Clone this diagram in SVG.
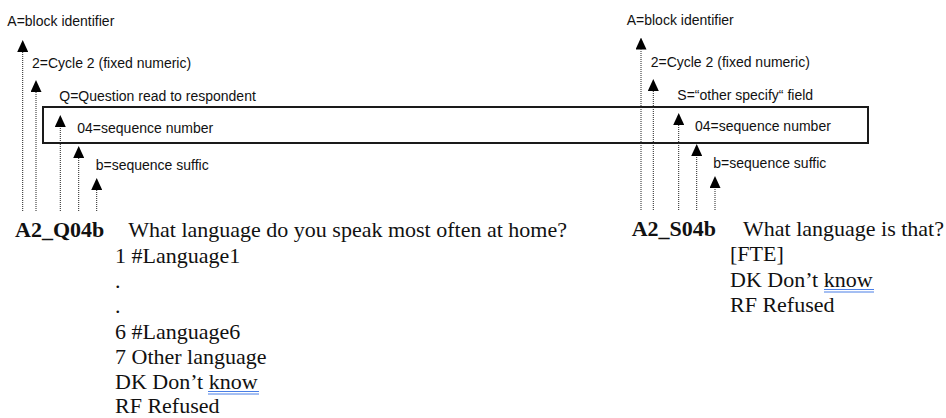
<svg xmlns="http://www.w3.org/2000/svg" width="946" height="418" viewBox="0 0 946 418">
<style>
.ann{font-family:"Liberation Sans",Arial,sans-serif;font-size:14px;fill:#111}
.code{font-family:"Liberation Serif","Times New Roman",serif;font-size:22px;font-weight:bold;fill:#111}
.body{font-family:"Liberation Serif","Times New Roman",serif;font-size:22px;fill:#111}
.dot{stroke:#222;stroke-width:1;stroke-dasharray:1 1;fill:none}
.box{fill:none;stroke:#1a1a1a;stroke-width:2}
.ul{stroke:#4a7fe6;stroke-width:1}
</style>
<defs>
<marker id="ah" markerUnits="userSpaceOnUse" markerWidth="12" markerHeight="11" refX="0" refY="5.5" orient="auto">
<path d="M0,0 L12,5.5 L0,11 z" fill="#000"/>
</marker>
</defs>
<rect width="946" height="418" fill="#fff"/>
<g id="highlight-box"><rect class="box" x="43" y="107" width="825" height="36"/></g>
<g id="connectors">
<line class="dot" x1="22.7" y1="211" x2="22.7" y2="52" marker-end="url(#ah)"/>
<line class="dot" x1="36" y1="211" x2="36" y2="92" marker-end="url(#ah)"/>
<line class="dot" x1="60.3" y1="211" x2="60.3" y2="127" marker-end="url(#ah)"/>
<line class="dot" x1="78.7" y1="211" x2="78.7" y2="158" marker-end="url(#ah)"/>
<line class="dot" x1="96.7" y1="211" x2="96.7" y2="190" marker-end="url(#ah)"/>
<line class="dot" x1="641" y1="210" x2="641" y2="49.5" marker-end="url(#ah)"/>
<line class="dot" x1="653.3" y1="210" x2="653.3" y2="91" marker-end="url(#ah)"/>
<line class="dot" x1="678.7" y1="210" x2="678.7" y2="125" marker-end="url(#ah)"/>
<line class="dot" x1="696.7" y1="210" x2="696.7" y2="156" marker-end="url(#ah)"/>
<line class="dot" x1="715" y1="210" x2="715" y2="188" marker-end="url(#ah)"/>
</g>
<g id="left-labels">
<text class="ann" x="7.3" y="26">A=block identifier</text>
<text class="ann" x="32" y="68">2=Cycle 2 (fixed numeric)</text>
<text class="ann" x="59.3" y="101">Q=Question read to respondent</text>
<text class="ann" x="77.3" y="133">04=sequence number</text>
<text class="ann" x="95.7" y="170">b=sequence suffic</text>
</g>
<g id="right-labels">
<text class="ann" x="626.7" y="25">A=block identifier</text>
<text class="ann" x="650.7" y="67">2=Cycle 2 (fixed numeric)</text>
<text class="ann" x="677.3" y="99.5">S=“other specify“ field</text>
<text class="ann" x="695" y="131">04=sequence number</text>
<text class="ann" x="713.3" y="168">b=sequence suffic</text>
</g>
<g id="question-A2_Q04b">
<text class="code" x="15" y="237">A2_Q04b</text>
<text class="body" x="128.3" y="237">What language do you speak most often at home?</text>
<text class="body" x="115" y="263">1 #Language1</text>
<text class="body" x="115" y="288">.</text>
<text class="body" x="115" y="313">.</text>
<text class="body" x="115" y="339">6 #Language6</text>
<text class="body" x="115" y="364">7 Other language</text>
<text class="body" x="115" y="389">DK Don’t know</text>
<line class="ul" x1="208" y1="391.5" x2="259" y2="391.5"/>
<line class="ul" x1="208" y1="394" x2="259" y2="394"/>
<text class="body" x="115" y="413">RF Refused</text>
</g>
<g id="question-A2_S04b">
<text class="code" x="631.7" y="236">A2_S04b</text>
<text class="body" x="743" y="236">What language is that?</text>
<text class="body" x="730" y="261">[FTE]</text>
<text class="body" x="730" y="287">DK Don’t know</text>
<line class="ul" x1="824" y1="289.5" x2="874" y2="289.5"/>
<line class="ul" x1="824" y1="292" x2="874" y2="292"/>
<text class="body" x="730" y="312">RF Refused</text>
</g>
</svg>
